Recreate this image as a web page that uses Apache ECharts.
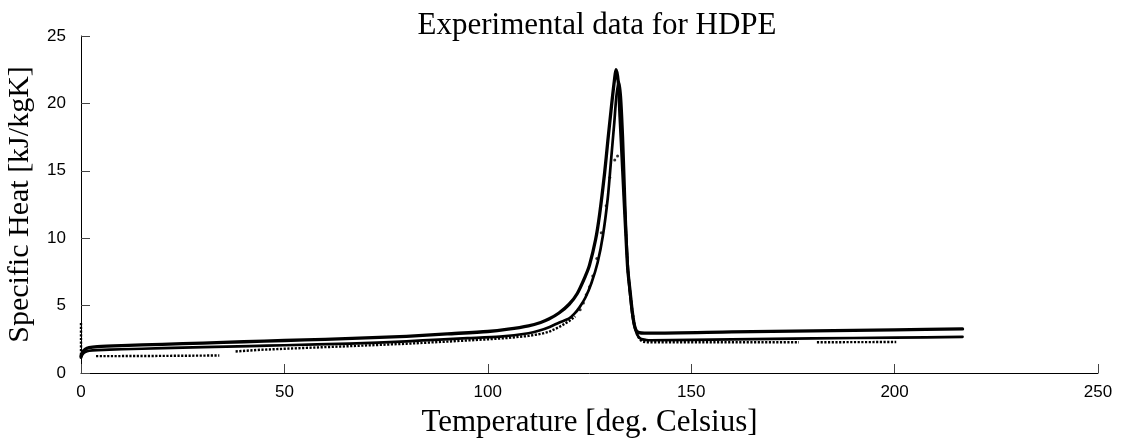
<!DOCTYPE html>
<html>
<head>
<meta charset="utf-8">
<title>Experimental data for HDPE</title>
<script src="https://cdn.jsdelivr.net/npm/echarts@6/dist/echarts.min.js"></script>
<style>
  html, body { margin: 0; padding: 0; background: #ffffff; }
  #chart { width: 1122px; height: 439px; }
</style>
</head>
<body>
<div id="chart"></div>
<script>
// Axis ticks
const xTicks = [0, 50, 100, 150, 200, 250];
const yTicks = [0, 5, 10, 15, 20, 25];

// Run 1 (upper curve): temperature [deg C] and specific heat [kJ/kgK]
const run1T = [0, 0.4, 1, 2, 4, 10, 20, 30, 40, 50, 60, 70, 80, 90, 100, 105, 110, 113, 115, 117.5,
  120, 122, 124, 125, 126.5, 127.5, 128.7, 129.5, 130.3, 131, 131.55, 132.1, 132.5, 133, 133.4,
  133.9, 134.4, 135, 135.5, 136, 136.5, 137.2, 138.5, 140, 160, 180, 200, 216.7];
const run1C = [1.25, 1.55, 1.75, 1.88, 1.95, 2.03, 2.13, 2.22, 2.32, 2.41, 2.5, 2.6, 2.72, 2.9, 3.08, 3.25, 3.5, 3.75, 4.0, 4.45,
  5.1, 5.9, 7.2, 8.0, 9.9, 11.8, 14.8, 17.2, 19.5, 21.4, 22.5, 21.5, 19.0, 16.0, 13.5,
  10.5, 7.7, 6.0, 4.6, 3.6, 3.15, 3.0, 2.96, 2.96, 3.05, 3.13, 3.2, 3.27];

// Run 2 (middle curve)
const run2T = [0, 0.4, 1, 2, 4, 10, 20, 30, 41.5, 50, 66, 80, 88, 95, 103, 110, 112.7, 115.2, 117.6, 120,
  121.3, 122.5, 124, 125.5, 127, 128.3, 129.5, 130.3, 131.1, 131.6, 132.2, 132.7, 133.2, 133.6, 134,
  134.5, 135.1, 135.6, 136.2, 136.9, 137.7, 139, 140, 160, 180, 200, 216.7];
const run2C = [1.15, 1.4, 1.55, 1.65, 1.7, 1.76, 1.84, 1.92, 1.99, 2.06, 2.18, 2.35, 2.48, 2.58, 2.7, 2.95, 3.15, 3.42, 3.75, 4.05,
  4.4, 4.85, 5.6, 6.7, 8.2, 10.2, 13.0, 15.8, 18.6, 20.5, 21.6, 20.5, 17.5, 14.0, 10.5,
  7.5, 5.5, 4.2, 3.3, 2.75, 2.52, 2.45, 2.43, 2.5, 2.57, 2.62, 2.68];

// Run 3 (point measurements), densely sampled stretches; null marks a gap in the record
const run3T = [0, 0, null, 3.7, 15, 25, 34, null, 38, 44, 55, 66, 80, 90, 100, 105, 110, 113, 115, 117.5, 120, 121.5,
  null, 132.4, 132.8, 133.2, 133.6, 134, 134.4, 134.9, 135.5, 136.1, 136.7, 137.3, 138, 138.9, 176.5,
  null, 180.9, 200.4];
const run3C = [3.7, 1.0, null, 1.25, 1.26, 1.28, 1.3, null, 1.6, 1.72, 1.86, 1.99, 2.17, 2.33, 2.5, 2.6, 2.75, 2.9, 3.05, 3.4, 3.85, 4.2,
  null, 21.0, 19.0, 15.5, 12.6, 10.1, 7.7, 6.2, 4.7, 3.5, 2.85, 2.5, 2.33, 2.28, 2.28,
  null, 2.28, 2.3];

// Run 3, sparse points on the rising flank of the melting peak
const run3PeakT = [122.7, 123.5, 124.2, 125, 125.8, 126.8, 127.9, 129.1, 130, 131.2, 131.9];
const run3PeakC = [4.7, 5.2, 5.8, 6.4, 7.2, 8.5, 10.4, 12.4, 14.5, 15.8, 16.1];

function pairs(ts, cs) {
  return ts.map((t, i) => (t === null || cs[i] === null) ? ['-', '-'] : [t, cs[i]]);
}

const serif = 'Liberation Serif';
const sans = 'Liberation Sans';

const chart = echarts.init(document.getElementById('chart'), null, { renderer: 'canvas' });

chart.setOption({
  animation: false,
  backgroundColor: '#ffffff',
  title: {
    text: 'Experimental data for HDPE',
    left: 592,
    textAlign: 'center',
    top: 5,
    textStyle: { fontFamily: serif, fontSize: 31, fontWeight: 'normal', color: '#000' }
  },
  grid: { left: 81, right: 24, top: 36, bottom: 66, containLabel: false, outerBoundsMode: 'none' },
  xAxis: {
    type: 'value',
    min: xTicks[0],
    max: xTicks[xTicks.length - 1],
    interval: xTicks[1] - xTicks[0],
    name: 'Temperature [deg. Celsius]',
    nameLocation: 'middle',
    nameGap: 34,
    nameTextStyle: { fontFamily: serif, fontSize: 31, color: '#000' },
    axisLine: { show: true, onZero: false, lineStyle: { color: '#000', width: 1 } },
    axisTick: { show: true, inside: true, length: 9, lineStyle: { color: '#444', width: 1 } },
    axisLabel: { fontFamily: sans, fontSize: 17, color: '#000', margin: 11 },
    splitLine: { show: false }
  },
  yAxis: {
    type: 'value',
    min: yTicks[0],
    max: yTicks[yTicks.length - 1],
    interval: yTicks[1] - yTicks[0],
    name: 'Specific Heat [kJ/kgK]',
    nameLocation: 'middle',
    nameGap: 46,
    nameTextStyle: { fontFamily: serif, fontSize: 30, color: '#000' },
    axisLine: { show: true, onZero: false, lineStyle: { color: '#000', width: 1 } },
    axisTick: { show: true, inside: true, length: 9, lineStyle: { color: '#444', width: 1 } },
    axisLabel: { fontFamily: sans, fontSize: 17, color: '#000', margin: 15 },
    splitLine: { show: false }
  },
  series: [
    {
      name: 'Run 1',
      type: 'line',
      data: pairs(run1T, run1C),
      showSymbol: false,
      smooth: 0.25,
      lineStyle: { color: '#000', width: 3.3, join: 'round', cap: 'round' }
    },
    {
      name: 'Run 2',
      type: 'line',
      data: pairs(run2T, run2C),
      showSymbol: false,
      smooth: 0.25,
      lineStyle: { color: '#000', width: 2.7, join: 'round', cap: 'round' }
    },
    {
      name: 'Run 3',
      type: 'line',
      data: pairs(run3T, run3C),
      showSymbol: false,
      connectNulls: false,
      lineStyle: { color: '#000', width: 2.4, type: [2.2, 1.5], cap: 'butt' }
    },
    {
      name: 'Run 3 peak',
      type: 'scatter',
      data: pairs(run3PeakT, run3PeakC),
      symbol: 'circle',
      symbolSize: 3,
      itemStyle: { color: '#000' }
    }
  ]
});
</script>
</body>
</html>
